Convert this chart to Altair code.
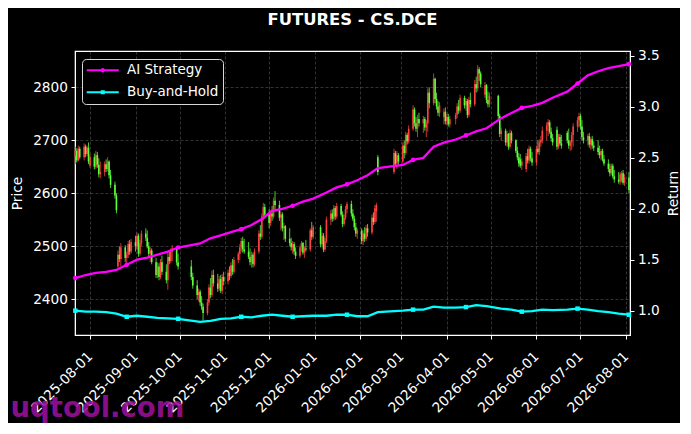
import altair as alt
import pandas as pd

# ---------------- daily candles (open, high, low, close), month by month ----------------
jul_2025 = [(2670,2688,2655,2680),(2680,2685,2658,2662),(2662,2690,2660,2684),(2684,2688,2664,2668),
            (2668,2694,2662,2688),(2688,2692,2668,2674),(2674,2690,2670,2686),(2686,2696,2655,2660)]
aug_2025 = [(2652,2674,2648,2668),(2668,2675,2645,2650),(2650,2680,2646,2672),(2672,2678,2648,2654),
            (2654,2666,2630,2636),(2636,2660,2628,2640),(2640,2660,2632,2655),(2655,2664,2640,2646),
            (2646,2668,2642,2660),(2660,2662,2628,2634),(2634,2644,2610,2616),(2616,2622,2590,2596),
            (2596,2600,2562,2568),(2462,2492,2458,2484),(2484,2500,2470,2476),(2476,2506,2462,2498),
            (2498,2502,2470,2478),(2478,2490,2466,2484),(2484,2510,2478,2504),(2504,2512,2484,2490),
            (2490,2514,2486,2508)]
sep_2025 = [(2508,2520,2490,2500),(2500,2526,2494,2520),(2520,2524,2480,2486),(2486,2512,2482,2506),
            (2506,2530,2500,2524),(2524,2534,2510,2516),(2516,2530,2496,2500),(2500,2508,2480,2486),
            (2486,2498,2470,2492),(2492,2496,2466,2470),(2470,2478,2440,2446),(2446,2470,2440,2462),
            (2462,2468,2436,2442),(2442,2476,2438,2470),(2470,2482,2446,2452),(2452,2466,2430,2436),
            (2436,2488,2418,2480),(2480,2492,2466,2472),(2472,2496,2468,2490),(2490,2502,2472,2496),
            (2496,2498,2464,2470),(2470,2486,2456,2462)]
oct_2025 = [(2462,2474,2436,2442),(2442,2450,2420,2426),(2426,2436,2400,2408),(2408,2420,2396,2414),
            (2414,2418,2388,2394),(2394,2406,2380,2386),(2386,2392,2360,2374),(2374,2400,2370,2394),
            (2394,2428,2388,2422),(2422,2440,2402,2408),(2408,2454,2404,2446),(2446,2456,2424,2430),
            (2430,2448,2414,2420),(2420,2444,2416,2438),(2438,2446,2412,2416),(2416,2448,2410,2442),
            (2442,2452,2426,2434)]
nov_2025 = [(2434,2456,2428,2450),(2450,2462,2436,2444),(2444,2470,2440,2464),(2464,2476,2446,2452),
            (2452,2480,2448,2474),(2474,2490,2468,2486),(2486,2504,2474,2498),(2498,2516,2490,2510),
            (2510,2518,2488,2494),(2494,2514,2486,2490),(2490,2508,2476,2480),(2480,2496,2464,2470),
            (2470,2490,2460,2484),(2484,2488,2460,2466),(2466,2496,2462,2490),(2490,2530,2486,2524),
            (2524,2540,2512,2518),(2518,2562,2514,2556),(2556,2582,2548,2574),(2574,2580,2552,2560)]
dec_2025 = [(2560,2570,2534,2544),(2544,2568,2538,2562),(2562,2576,2548,2556),(2556,2592,2552,2586),
            (2586,2604,2570,2578),(2578,2586,2548,2554),(2554,2566,2530,2560),(2560,2564,2528,2534),
            (2534,2544,2512,2538),(2538,2540,2508,2514),(2514,2534,2500,2506),(2506,2516,2492,2498),
            (2498,2510,2486,2504),(2504,2508,2484,2490),(2490,2498,2476,2482),(2482,2502,2478,2498),
            (2498,2510,2490,2506),(2506,2508,2484,2488),(2488,2500,2478,2496),(2496,2512,2490,2494),
            (2494,2534,2490,2530),(2530,2546,2512,2518),(2518,2540,2514,2536)]
jan_2026 = [(2536,2540,2498,2504),(2504,2526,2500,2520),(2520,2525,2489,2494),(2494,2516,2490,2510),
            (2510,2556,2506,2550),(2550,2568,2540,2562),(2562,2570,2546,2552),(2552,2578,2548,2572),
            (2572,2576,2550,2556),(2556,2582,2552,2576),(2576,2580,2556,2560),(2560,2566,2536,2542),
            (2542,2560,2538,2554),(2554,2576,2550,2570),(2570,2584,2562,2580),(2580,2586,2556,2562),
            (2562,2570,2548,2552),(2552,2558,2530,2536),(2536,2544,2518,2524),(2524,2534,2514,2530)]
feb_2026 = [(2530,2534,2504,2510),(2510,2530,2502,2524),(2524,2536,2508,2514),(2514,2540,2510,2534),
            (2534,2542,2518,2526),(2526,2560,2522,2554),(2554,2564,2540,2546),(2546,2578,2542,2572),
            (2566,2582,2546,2578),(2668,2672,2634,2640),(2640,2684,2636,2676),(2676,2680,2650,2656),
            (2656,2680,2646,2672),(2672,2676,2654,2660)]
mar_2026 = [(2660,2696,2656,2690),(2690,2700,2666,2676),(2676,2716,2672,2710),(2710,2714,2692,2698),
            (2698,2728,2694,2722),(2722,2766,2718,2758),(2758,2762,2726,2732),(2732,2744,2716,2722),
            (2722,2748,2706,2740),(2740,2752,2726,2732),(2732,2746,2714,2740),(2740,2744,2718,2724),
            (2724,2738,2706,2732),(2732,2798,2716,2790),(2790,2800,2760,2770),(2770,2826,2766,2816),
            (2816,2818,2770,2778),(2778,2790,2758,2764),(2764,2774,2746,2752),(2752,2772,2744,2766),
            (2744,2760,2730,2754),(2754,2762,2730,2736)]
apr_2026 = [(2736,2750,2728,2744),(2744,2750,2726,2730),(2730,2746,2724,2740),(2740,2752,2730,2748),
            (2748,2770,2742,2764),(2764,2776,2750,2756),(2756,2786,2752,2780),(2780,2784,2760,2766),
            (2766,2780,2756,2774),(2774,2778,2742,2748),(2748,2782,2744,2776),(2776,2790,2762,2768),
            (2768,2814,2764,2806),(2806,2820,2790,2798),(2798,2842,2792,2834),(2834,2838,2812,2826),
            (2826,2830,2800,2806),(2786,2810,2780,2804),(2804,2806,2770,2776),(2776,2792,2762,2768),
            (2768,2790,2762,2784)]
may_2026 = [(2784,2786,2740,2746),(2746,2750,2706,2712),(2712,2724,2700,2718),(2718,2722,2690,2696),
            (2696,2718,2688,2712),(2712,2714,2682,2688),(2688,2720,2684,2714),(2714,2718,2694,2700),
            (2700,2702,2676,2680),(2680,2688,2662,2668),(2668,2676,2650,2656),(2664,2674,2648,2652),
            (2652,2666,2644,2660),(2646,2676,2640,2670),(2670,2684,2656,2662),(2662,2690,2656,2684),
            (2684,2688,2660,2666),(2666,2678,2652,2658)]
jun_2026 = [(2658,2690,2652,2684),(2684,2700,2674,2678),(2678,2702,2672,2696),(2696,2708,2688,2700),
            (2700,2726,2694,2718),(2718,2734,2700,2728),(2728,2740,2708,2734),(2734,2738,2712,2716),
            (2716,2724,2698,2704),(2704,2712,2690,2696),(2720,2726,2682,2688),(2688,2712,2684,2706),
            (2706,2712,2690,2694),(2694,2710,2684,2690),(2714,2718,2694,2700),(2700,2722,2684,2690),
            (2690,2700,2680,2696),(2696,2716,2682,2710),(2710,2732,2688,2726),(2726,2744,2716,2738),
            (2738,2752,2724,2746)]
jul_2026 = [(2746,2750,2720,2726),(2726,2738,2700,2706),(2706,2716,2694,2700),(2700,2712,2690,2708),
            (2708,2714,2686,2692),(2692,2706,2682,2702),(2702,2708,2684,2690),(2690,2698,2680,2686),
            (2686,2700,2672,2678),(2678,2690,2666,2672),(2672,2684,2662,2680),(2680,2684,2660,2664),
            (2664,2672,2652,2656),(2656,2664,2640,2646),(2646,2656,2632,2638),(2638,2656,2634,2652),
            (2652,2656,2628,2632),(2632,2644,2620,2626),(2626,2640,2618,2622),(2622,2640,2616,2636),
            (2624,2642,2620,2638),(2638,2644,2616,2620),(2620,2636,2614,2630)]
aug_2026 = [(2630,2640,2600,2606)]

# exchange holidays (no trading)
holidays = ["2025-10-01", "2025-10-02", "2025-10-03", "2025-10-06", "2025-10-07", "2025-10-08",
            "2026-01-01", "2026-01-02",
            "2026-02-16", "2026-02-17", "2026-02-18", "2026-02-19", "2026-02-20", "2026-02-23",
            "2026-04-06", "2026-05-01", "2026-05-04", "2026-05-05", "2026-06-19"]

# return curves, one value every 5 trading days
ai_strategy = [1.32, 1.35, 1.37, 1.38, 1.40, 1.45, 1.50, 1.52, 1.55, 1.58, 1.62, 1.66, 1.71,
               1.74, 1.77, 1.80, 1.84, 1.90, 1.98, 2.00, 2.03, 2.07, 2.10, 2.16, 2.21, 2.24,
               2.28, 2.33, 2.40, 2.43, 2.48, 2.50, 2.61, 2.65, 2.68, 2.72, 2.76, 2.79, 2.89,
               2.94, 2.99, 3.01, 3.04, 3.09, 3.15, 3.23, 3.31, 3.35, 3.38, 3.40, 3.42]
buy_hold = [1.00, 0.99, 0.99, 0.985, 0.97, 0.94, 0.95, 0.94, 0.93, 0.925, 0.92, 0.89, 0.90,
            0.92, 0.925, 0.94, 0.935, 0.95, 0.96, 0.95, 0.94, 0.945, 0.95, 0.95, 0.96, 0.96,
            0.945, 0.945, 0.985, 1.00, 1.01, 1.01, 1.04, 1.03, 1.03, 1.035, 1.055, 1.045, 1.02,
            1.01, 0.99, 0.995, 1.01, 1.005, 1.01, 1.02, 1.01, 0.995, 0.985, 0.97, 0.96]
series_names = ["AI Strategy", "Buy-and-Hold"]

price_ticks = [2400, 2500, 2600, 2700, 2800]
return_ticks = [1.0, 1.5, 2.0, 2.5, 3.0, 3.5]
month_ticks = [(2025, m) for m in range(8, 13)] + [(2026, m) for m in range(1, 9)]

# ---------------- tables ----------------
bdays = pd.bdate_range("2025-07-22", "2026-08-03")
hol = set(pd.to_datetime(holidays))
dates = [d for d in bdays if d not in hol]
rows = [r for m in [jul_2025, aug_2025, sep_2025, oct_2025, nov_2025, dec_2025, jan_2026, feb_2026,
                    mar_2026, apr_2026, may_2026, jun_2026, jul_2026, aug_2026] for r in m]
n = min(len(dates), len(rows))
candles = pd.DataFrame({
    "date": [d.strftime("%Y-%m-%d") for d in dates[:n]],
    "open": [r[0] for r in rows[:n]],
    "high": [r[1] for r in rows[:n]],
    "low": [r[2] for r in rows[:n]],
    "close": [r[3] for r in rows[:n]],
})

line_dates = [dates[i].strftime("%Y-%m-%d") for i in range(0, len(dates), 5)]
k = min(len(line_dates), len(ai_strategy), len(buy_hold))
lines = pd.DataFrame({
    "date": line_dates[:k] * 2,
    "value": ai_strategy[:k] + buy_hold[:k],
    "series": [series_names[0]] * k + [series_names[1]] * k,
    "marker": [i % 5 == 0 for i in range(k)] * 2,
})

# ---------------- styling ----------------
RED, GREEN = "#ff4040", "#5cff3a"
MAG, CYAN = "#ff00ff", "#00ffff"
FONT = "DejaVu Sans"

xscale = alt.Scale(type="utc", nice=False,
                   domain=[alt.DateTime(year=2025, month=7, date=21, hours=19, utc=True),
                           alt.DateTime(year=2026, month=8, date=3, hours=17, utc=True)])
xaxis = alt.Axis(values=[alt.DateTime(year=y, month=m, date=1, utc=True) for y, m in month_ticks],
                 format="%Y-%m-%d", labelAngle=-45, labelAlign="right", labelBaseline="middle",
                 labelPadding=15, labelOverlap=False, labelFontSize=13.7,
                 grid=True, gridDash=[3, 2], gridColor="#9a9a9a", gridOpacity=0.55, gridWidth=0.6,
                 title="uqtool.com", titleX=-65, titleY=81, titleAlign="left", titleAnchor="start",
                 titleBaseline="alphabetic", titleAngle=0, titleFontSize=27.5, titleFontWeight="bold",
                 titleColor="#9b109b", titleOpacity=0.9)
cx = alt.X("date:T", scale=xscale, axis=xaxis)

pscale = alt.Scale(domain=[2332.6, 2868.5], nice=False, zero=False)
paxis = alt.Axis(values=price_ticks, format="d", title="Price", grid=True, gridDash=[3, 2],
                 gridColor="#9a9a9a", gridOpacity=0.55, gridWidth=0.6, labelPadding=3.5,
                 titleAngle=270, titleX=-58, titleY=142, titleAlign="center", titleBaseline="middle")
rscale = alt.Scale(domain=[0.761, 3.549], nice=False, zero=False)
raxis = alt.Axis(values=return_ticks, format=".1f", title="Return", orient="right", grid=False,
                 labelPadding=3.5, titleAngle=270, titleX=43, titleY=142, titleAlign="center",
                 titleBaseline="middle")

up = alt.condition("datum.close >= datum.open", alt.value(RED), alt.value(GREEN))

wick = alt.Chart(candles).mark_rule(strokeWidth=0.8).encode(
    x=cx, y=alt.Y("low:Q", scale=pscale, axis=paxis), y2="high:Q", color=up)
body = alt.Chart(candles).mark_rule(strokeWidth=1.6).encode(
    x=cx, y=alt.Y("open:Q", scale=pscale, axis=paxis), y2="close:Q", color=up)

ry = alt.Y("value:Q", scale=rscale, axis=raxis)
ai_line = alt.Chart(lines).transform_filter(f"datum.series == '{series_names[0]}'").mark_line(
    color=MAG, strokeWidth=2.3).encode(x=cx, y=ry)
bh_line = alt.Chart(lines).transform_filter(f"datum.series == '{series_names[1]}'").mark_line(
    color=CYAN, strokeWidth=2.3).encode(x=cx, y=ry)
ai_pts = alt.Chart(lines).transform_filter(
    f"datum.series == '{series_names[0]}' && datum.marker").mark_point(
    shape="circle", filled=True, size=22, color=MAG, opacity=1).encode(x=cx, y=ry)
bh_pts = alt.Chart(lines).transform_filter(
    f"datum.series == '{series_names[1]}' && datum.marker").mark_point(
    shape="square", filled=True, size=20, color=CYAN, opacity=1).encode(x=cx, y=ry)

PATH_C = ("M-2.67,-0.17H2.67V0.17H-2.67Z "
          "M-0.36,0A0.36,0.36,0,1,1,0.36,0A0.36,0.36,0,1,1,-0.36,0Z")
PATH_S = "M-2.67,-0.17H2.67V0.17H-2.67Z M-0.34,-0.34H0.34V0.34H-0.34Z"
legend = alt.Legend(title=None, orient="none", legendX=7, legendY=8, fillColor="black",
                    strokeColor="#d8d8d8", cornerRadius=4, padding=4.5, labelColor="white",
                    labelFont=FONT, labelFontSize=13.5, symbolSize=144, symbolStrokeWidth=0,
                    symbolOffset=9.5, labelOffset=17.5, rowPadding=7, symbolOpacity=1)
leg = alt.Chart(lines).mark_point(filled=True, opacity=0).encode(
    x=cx, y=ry,
    color=alt.Color("series:N", scale=alt.Scale(domain=series_names, range=[MAG, CYAN]), legend=legend),
    shape=alt.Shape("series:N", scale=alt.Scale(domain=series_names, range=[PATH_C, PATH_S]), legend=legend),
)

price = alt.layer(wick, body)
ret = alt.layer(ai_line, bh_line, ai_pts, bh_pts, leg)

chart = alt.layer(price, ret).resolve_scale(y="independent").properties(
    width=555, height=284,
    title=alt.TitleParams(text="FUTURES - CS.DCE", color="white", font=FONT, fontSize=16.4,
                          fontWeight="bold", anchor="middle", offset=21),
    padding={"left": 67, "top": 43, "right": 50, "bottom": 88},
    autosize=alt.AutoSizeParams(type="none"),
    background="black",
).configure_view(stroke="white", strokeWidth=1.2).configure_axis(
    labelFont=FONT, titleFont=FONT, labelColor="white", titleColor="white", tickColor="white",
    domainColor="white", domainWidth=1, tickWidth=1, tickSize=4, labelFontSize=13.7,
    titleFontSize=13.7, titleFontWeight="normal",
)

chart.save("out.html", embed_options={"renderer": "svg", "actions": False})
